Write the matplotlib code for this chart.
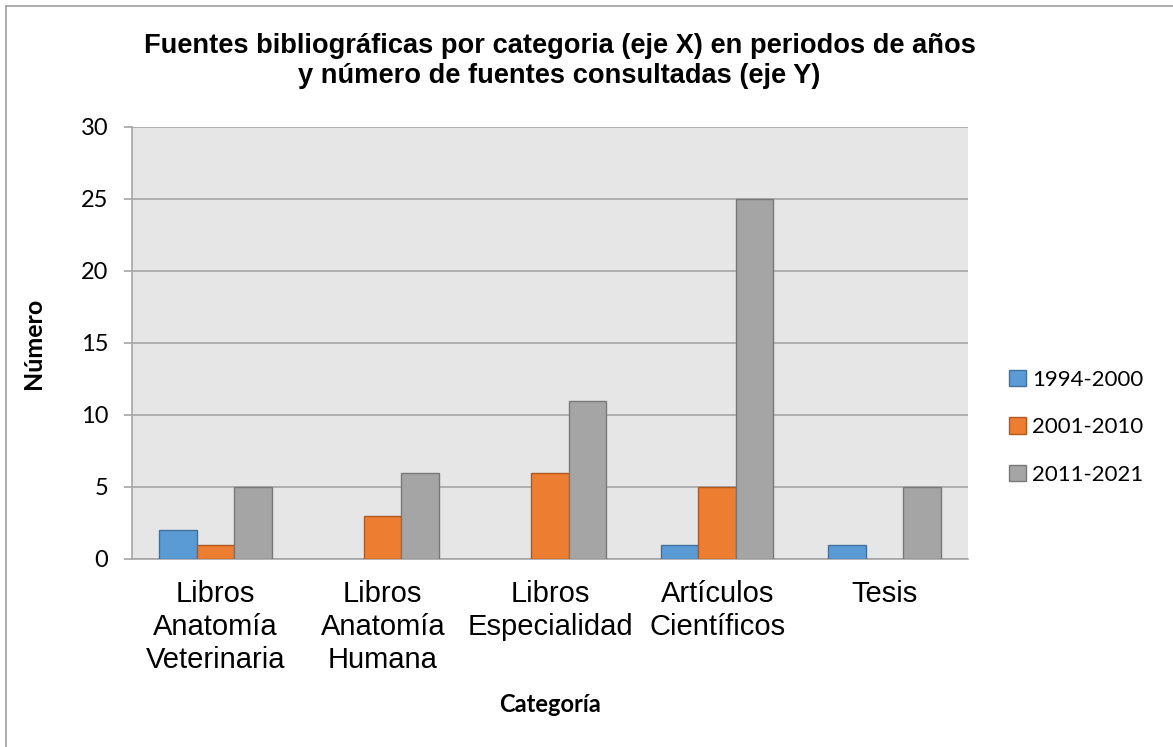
#!/usr/bin/env python3
"""Fuentes bibliográficas por categoría y periodo (barras agrupadas, estilo Excel)."""
import numpy as np
import matplotlib

matplotlib.use("Agg")
import matplotlib.pyplot as plt  # noqa: E402
from matplotlib.lines import Line2D  # noqa: E402

categories = [
    "Libros\nAnatomía\nVeterinaria",
    "Libros\nAnatomía\nHumana",
    "Libros\nEspecialidad",
    "Artículos\nCientíficos",
    "Tesis",
]
periods = ["1994-2000", "2001-2010", "2011-2021"]
v_1994_2000 = [2, 0, 0, 1, 1]
v_2001_2010 = [1, 3, 6, 5, 0]
v_2011_2021 = [5, 6, 11, 25, 5]
yticks = [0, 5, 10, 15, 20, 25, 30]

FILL = ["#5B9BD5", "#ED7D31", "#A5A5A5"]
EDGE = ["#41719C", "#AE5A21", "#787878"]
GRID = "#A6A6A6"

fig = plt.figure(figsize=(11.73, 7.47), dpi=100)
ax = fig.add_axes([0.1125, 0.2517, 0.7127, 0.5783])
ax.set_facecolor("#E6E6E6")

x = np.arange(len(categories))
w = 0.224
series = [v_1994_2000, v_2001_2010, v_2011_2021]
for k, vals in enumerate(series):
    vals = np.asarray(vals, dtype=float)
    keep = vals > 0  # Excel draws nothing for zero values
    ax.bar(x[keep] + (k - 1) * w, vals[keep], width=w, color=FILL[k],
           edgecolor=EDGE[k], linewidth=1.0, zorder=3, label=periods[k])

ax.set_xlim(-0.5, len(categories) - 0.5)
ax.set_ylim(0, 30)
ax.set_yticks(yticks)
ax.yaxis.grid(True, color=GRID, lw=1.2, zorder=1)
ax.set_axisbelow(True)
for s in ("top", "right"):
    ax.spines[s].set_visible(False)
ax.spines["left"].set_color(GRID)
ax.spines["bottom"].set_color(GRID)
ax.spines["left"].set_linewidth(1.2)
ax.spines["bottom"].set_linewidth(1.2)

ax.set_xticks(x)
ax.set_xticklabels(categories, fontfamily="Liberation Sans", fontsize=21,
                   linespacing=1.23, va="top")
ax.tick_params(axis="x", length=0, pad=15)
ax.tick_params(axis="y", length=6, width=1.2, color=GRID, pad=11,
               labelsize=17)
for lab in ax.get_yticklabels():
    lab.set_fontfamily("Lato")

ax.set_ylabel("Número", fontfamily="Lato", fontweight="bold", fontsize=18,
              labelpad=12)
ax.set_xlabel("Categoría", fontfamily="Lato", fontweight="bold", fontsize=17,
              labelpad=14)
ax.yaxis.set_label_coords(-0.104, 0.5)

fig.text(0.477, 0.918, "Fuentes bibliográficas por categoria (eje X) en periodos de años\n"
         "y número de fuentes consultadas (eje Y)", ha="center", va="center",
         fontfamily="Liberation Sans", fontweight="bold", fontsize=19.6,
         linespacing=1.2)

leg = ax.legend(loc="center left", bbox_to_anchor=(0.843, 0.428),
                bbox_transform=fig.transFigure, frameon=False,
                prop={"family": "Lato", "size": 16}, handlelength=0.75,
                handleheight=0.75, handletextpad=0.3, labelspacing=1.25)

# chart-area border (only top and left visible in the source)
fig.add_artist(Line2D([0.005, 0.005], [0.0, 0.992], transform=fig.transFigure,
                      color="#A0A0A0", lw=1.2))
fig.add_artist(Line2D([0.005, 1.0], [0.992, 0.992], transform=fig.transFigure,
                      color="#A0A0A0", lw=1.2))

fig.savefig("out.png", dpi=100, facecolor="white")
